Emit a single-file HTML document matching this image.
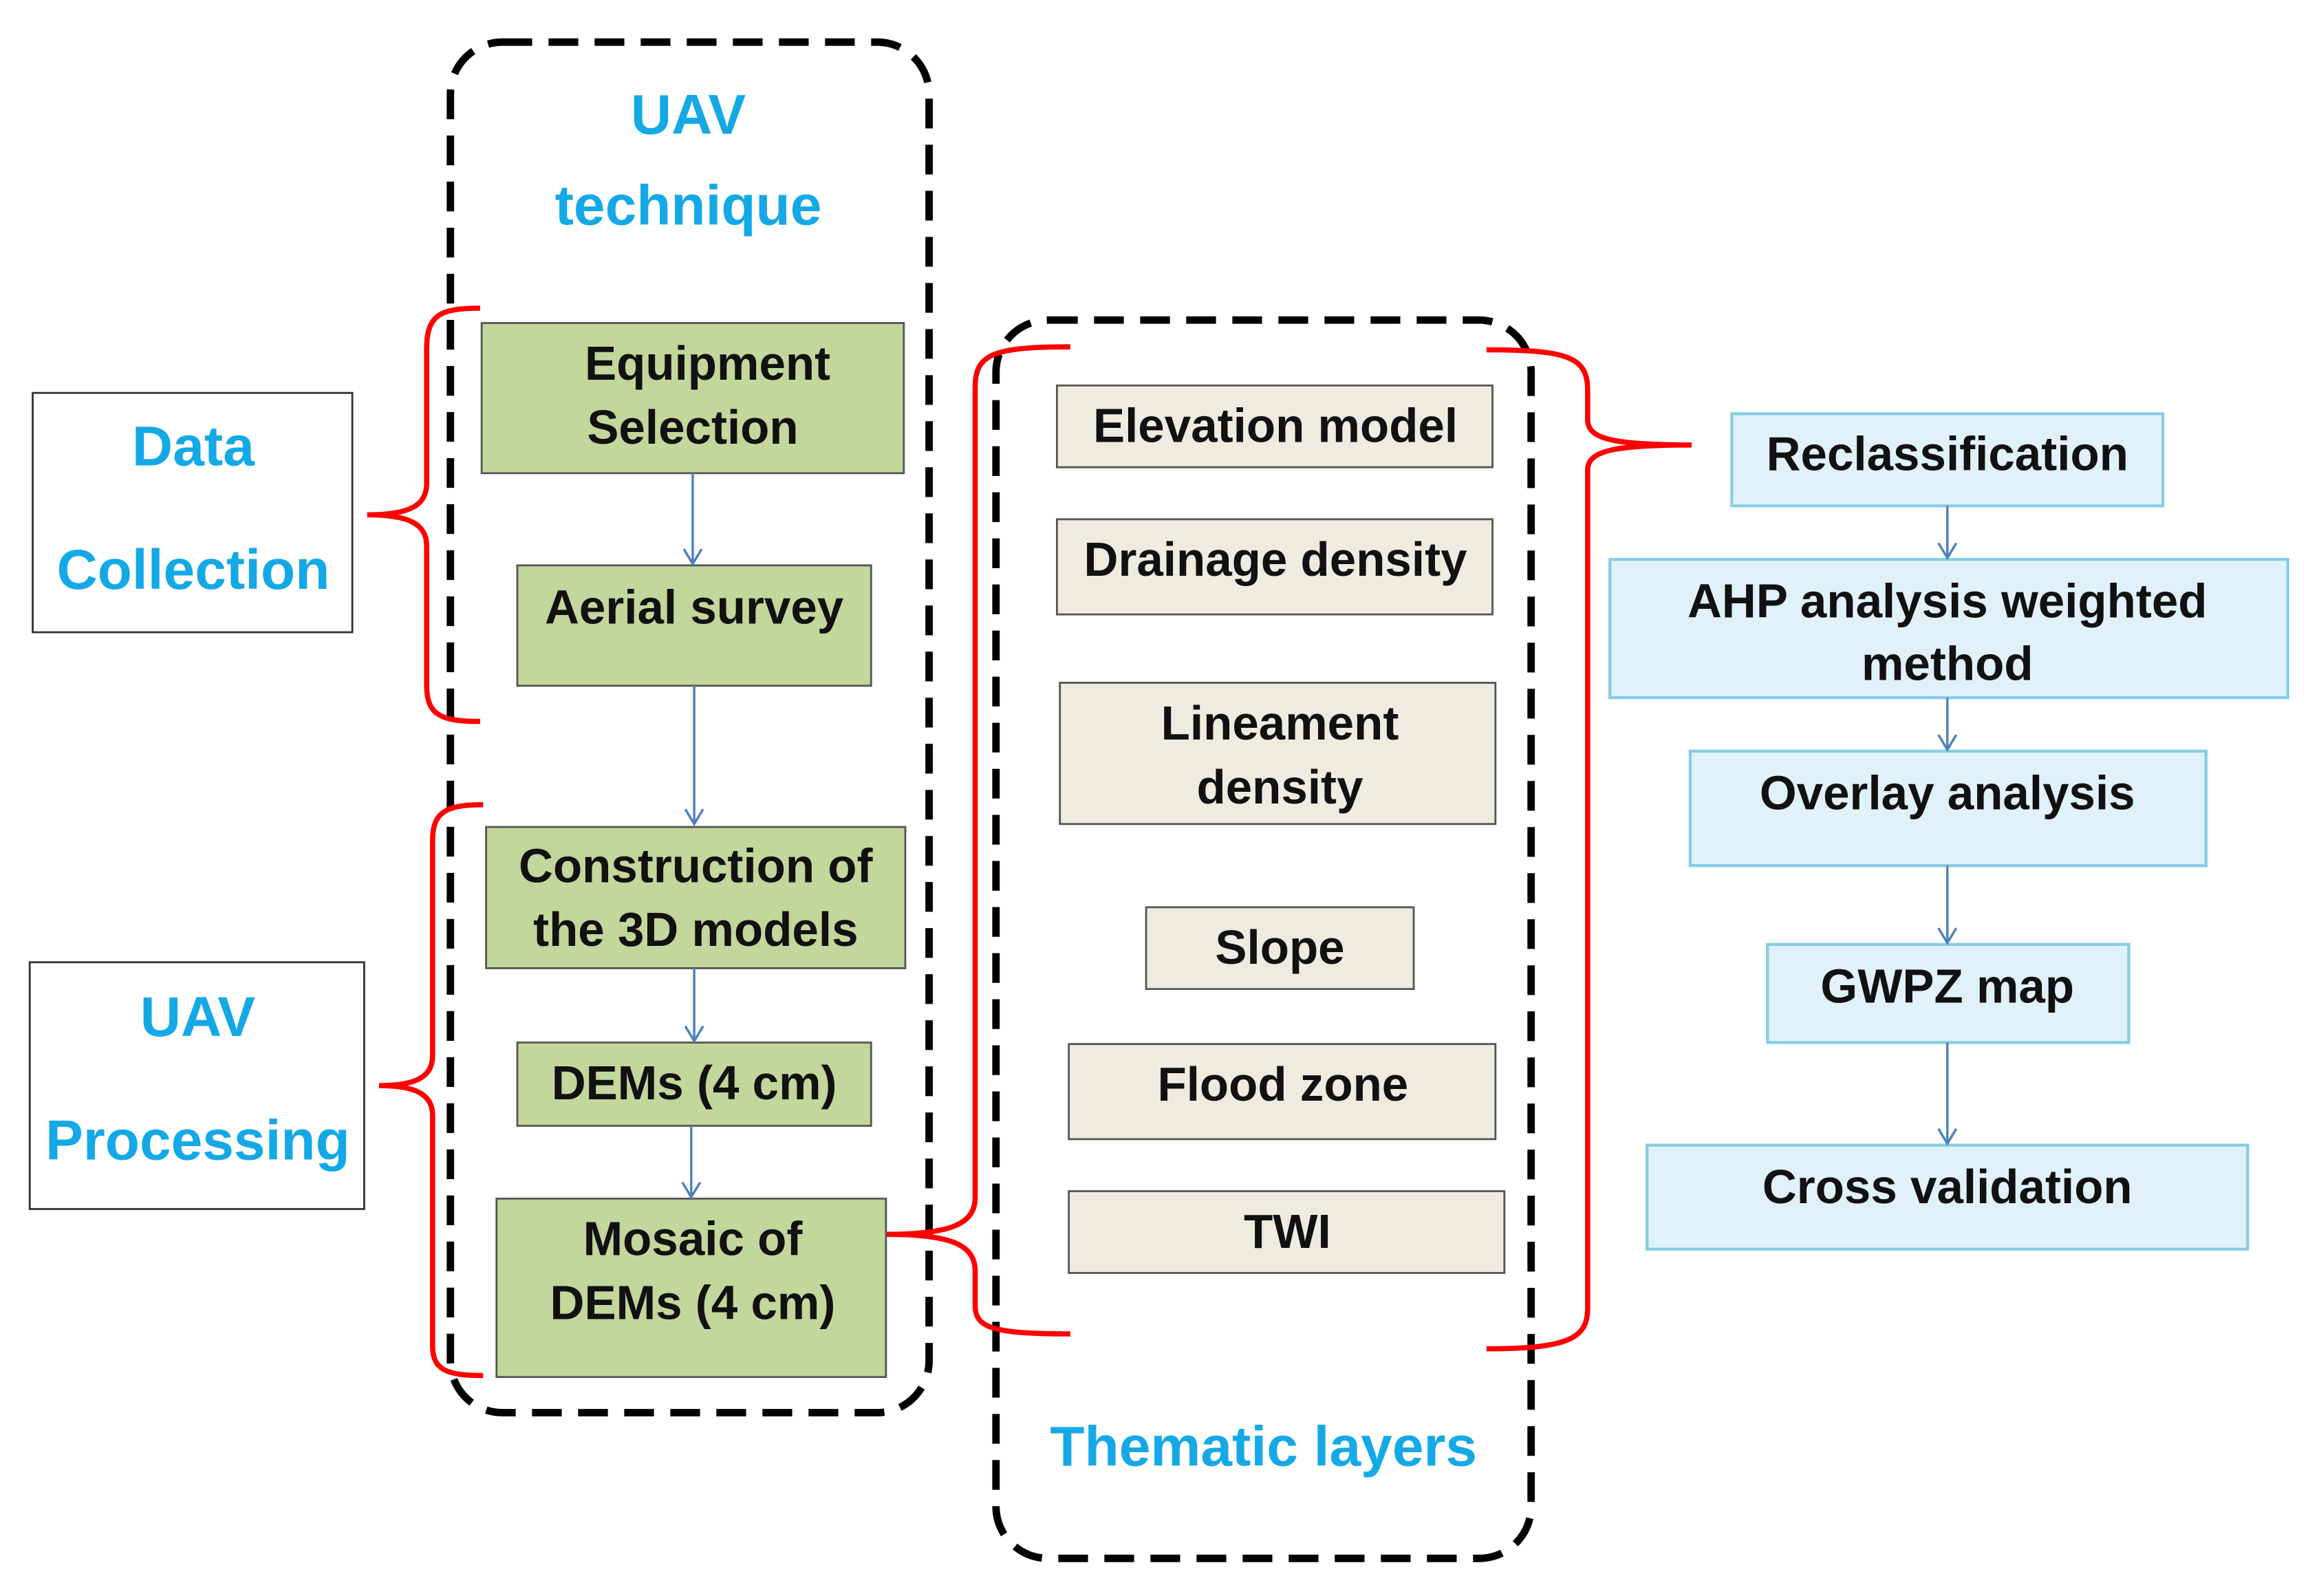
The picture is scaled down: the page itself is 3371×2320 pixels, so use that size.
<!DOCTYPE html>
<html><head><meta charset="utf-8"><style>
html,body{margin:0;padding:0;background:#fff;}
svg{display:block;}
text{font-family:"Liberation Sans",sans-serif;font-weight:bold;text-anchor:middle;dominant-baseline:central;}
.t{font-size:32px;fill:#111;}
.c{font-size:38px;fill:#14a9e6;}
.g{fill:#c3d69b;stroke:#555;stroke-width:1.3;}
.b{fill:#eeebe0;stroke:#555;stroke-width:1.3;}
.u{fill:#e0f1fa;stroke:#86cde3;stroke-width:2;}
.r{fill:none;stroke:#f00;stroke-width:3.5;}
.a{stroke:#4f81bd;stroke-width:1.6;fill:none;}
.d{fill:none;stroke:#000;stroke-width:5;stroke-dasharray:20 11;}
</style></head><body>
<svg width="3371" height="2320" viewBox="0 0 1560 1073" xmlns="http://www.w3.org/2000/svg">
<rect width="1560" height="1073" fill="#fff"/>
<rect class="d" x="303" y="28" width="322" height="922" rx="35"/>
<rect class="d" x="670" y="215" width="360" height="833" rx="35"/>
<text class="c" x="463" y="77">UAV</text>
<text class="c" x="463" y="138">technique</text>
<text class="c" x="850" y="973">Thematic layers</text>
<rect x="22" y="264" width="215" height="161" fill="#fff" stroke="#333" stroke-width="1.3"/>
<text class="c" x="130" y="300">Data</text>
<text class="c" x="130" y="383">Collection</text>
<rect x="20" y="647" width="225" height="166" fill="#fff" stroke="#333" stroke-width="1.3"/>
<text class="c" x="133" y="684">UAV</text>
<text class="c" x="133" y="767">Processing</text>
<path class="r" d="M323,207 C295,207 287,212 287,235 L287,325 C287,340 275,346 247,346 C275,346 287,352 287,367 L287,460 C287,480 295,485 323,485"/>
<path class="r" d="M325,541 C300,541 291,546 291,565 L291,710 C291,724 280,730 255,730 C280,730 291,736 291,750 L291,905 C291,921 300,925 325,925"/>
<path class="r" d="M720,233 C668,233 656,238 656,260 L656,805 C656,823 640,830 596,830 C640,830 656,837 656,855 L656,878 C656,893 668,897 720,897"/>
<path class="r" d="M1000,235 C1055,235 1068,240 1068,262 L1068,282 C1068,295 1085,299 1138,299 C1085,299 1068,303 1068,316 L1068,880 C1068,900 1055,907 1000,907"/>
<rect class="g" x="324" y="217" width="284" height="101"/>
<text class="t" x="476" y="244">Equipment</text><text class="t" x="466" y="287">Selection</text>
<rect class="g" x="348" y="380" width="238" height="81"/>
<text class="t" x="467" y="408">Aerial survey</text>
<rect class="g" x="327" y="556" width="282" height="95"/>
<text class="t" x="468" y="582">Construction of</text><text class="t" x="468" y="625">the 3D models</text>
<rect class="g" x="348" y="701" width="238" height="56"/>
<text class="t" x="467" y="728">DEMs (4 cm)</text>
<rect class="g" x="334" y="806" width="262" height="120"/>
<text class="t" x="466" y="833">Mosaic of</text><text class="t" x="466" y="876">DEMs (4 cm)</text>
<g class="a">
<path d="M466,318 V379 M460,369 L466,379 L472,369"/>
<path d="M467,461 V554 M461,544 L467,554 L473,544"/>
<path d="M467,651 V700 M461,690 L467,700 L473,690"/>
<path d="M465,757 V805 M459,795 L465,805 L471,795"/>
</g>
<rect class="b" x="711" y="259" width="293" height="55"/><text class="t" x="858" y="286">Elevation model</text>
<rect class="b" x="711" y="349" width="293" height="64"/><text class="t" x="858" y="376">Drainage density</text>
<rect class="b" x="713" y="459" width="293" height="95"/><text class="t" x="861" y="486">Lineament</text><text class="t" x="861" y="529">density</text>
<rect class="b" x="771" y="610" width="180" height="55"/><text class="t" x="861" y="637">Slope</text>
<rect class="b" x="719" y="702" width="287" height="64"/><text class="t" x="863" y="729">Flood zone</text>
<rect class="b" x="719" y="801" width="293" height="55"/><text class="t" x="866" y="828">TWI</text>
<rect class="u" x="1165" y="278" width="290" height="62"/><text class="t" x="1310" y="305">Reclassification</text>
<rect class="u" x="1083" y="376" width="456" height="93"/><text class="t" x="1310" y="404">AHP analysis weighted</text><text class="t" x="1310" y="446">method</text>
<rect class="u" x="1137" y="505" width="347" height="77"/><text class="t" x="1310" y="533">Overlay analysis</text>
<rect class="u" x="1189" y="635" width="243" height="66"/><text class="t" x="1310" y="663">GWPZ map</text>
<rect class="u" x="1108" y="770" width="404" height="70"/><text class="t" x="1310" y="798">Cross validation</text>
<g class="a">
<path d="M1310,340 V375 M1304,365 L1310,375 L1316,365"/>
<path d="M1310,469 V504 M1304,494 L1310,504 L1316,494"/>
<path d="M1310,582 V634 M1304,624 L1310,634 L1316,624"/>
<path d="M1310,701 V769 M1304,759 L1310,769 L1316,759"/>
</g>
</svg>
</body></html>
